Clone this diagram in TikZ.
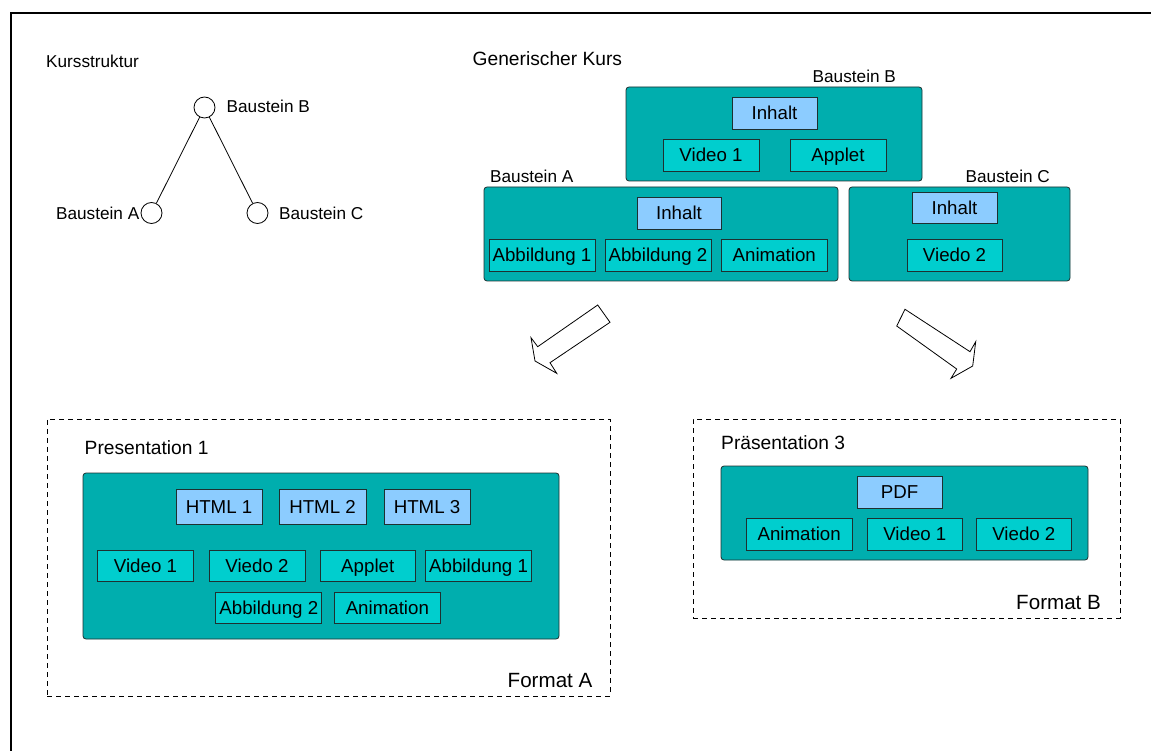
\documentclass[tikz,border=0pt]{standalone}
\usepackage{fontspec}
\setmainfont{Liberation Sans}
\usetikzlibrary{fit}

\definecolor{tealA}{RGB}{0,174,174}
\definecolor{cyanB}{RGB}{0,206,206}
\definecolor{blueC}{RGB}{140,204,255}
\definecolor{edge}{RGB}{30,48,48}

\tikzset{
  lbl/.style={inner sep=0pt, text height=12.3pt, text depth=0pt, font=\fontsize{17.2}{20}\selectfont},
  bigl/.style={inner sep=0pt, text height=13.7pt, text depth=0pt, font=\fontsize{19.2}{22}\selectfont},
  fmt/.style={inner sep=0pt, text height=14.7pt, text depth=0pt, font=\fontsize{20.6}{24}\selectfont},
  block/.style={draw=edge, fill=tealA, rounded corners=3pt, line width=0.8pt, inner sep=0pt},
  item/.style={draw=edge, fill=cyanB, line width=0.8pt, inner sep=0pt,
               text height=13.4pt, text depth=0pt, font=\fontsize{18.7}{22}\selectfont},
  head/.style={item, fill=blueC},
  sz/.style 2 args={minimum width=#1pt, minimum height=#2pt},
  knot/.style={circle, draw, line width=0.8pt, minimum size=21pt, inner sep=0pt},
  fmtbox/.style={draw, dashed, dash pattern=on 5pt off 4pt, line width=0.8pt, inner sep=0pt},
  fatarrow/.style={draw, fill=white, line width=0.8pt, line join=miter},
}

\begin{document}
\begin{tikzpicture}[x=1pt, y=-1pt]
\useasboundingbox (0,0) rectangle (1151,751);

% outer frame
\draw[line width=1.2pt] (11,751) -- (11,13) -- (1151,13);

% course structure tree
\node[lbl, anchor=west] (kst) at (46,61) {Kursstruktur};
\node[knot] (tB) at (204.5,107.5) {};
\node[knot] (tA) at (151.5,213) {};
\node[knot] (tC) at (257.5,213) {};
\draw[line width=0.8pt] (tB) -- (tA);
\draw[line width=0.8pt] (tB) -- (tC);
\node[lbl, anchor=west] (tBl) at (226.5,106) {Baustein B};
\node[lbl, anchor=east] (tAl) at (139.5,213) {Baustein A};
\node[lbl, anchor=west] (tCl) at (279,213) {Baustein C};

% generic course
\node[bigl, anchor=west] (gk) at (472.5,59) {Generischer Kurs};

\node[lbl, anchor=west] (bBl) at (812.5,76) {Baustein B};
\node[block, fit={(626,87) (922,181)}] (blkB) {};
\node[head, sz={85}{32}] (inhB) at (774.5,113) {Inhalt};
\node[item, sz={96}{32}] (vidB) at (711,155) {Video 1};
\node[item, sz={96}{32}] (appB) at (838,155) {Applet};

\node[lbl, anchor=west] (bAl) at (490,176) {Baustein A};
\node[block, fit={(484,187) (838,281)}] (blkA) {};
\node[head, sz={84}{32}] (inhA) at (679,213) {Inhalt};
\node[item, sz={106}{32}] (abbA1) at (542,255) {Abbildung 1};
\node[item, sz={106}{32}] (abbA2) at (658,255) {Abbildung 2};
\node[item, sz={105.5}{32}] (aniA) at (774.25,255) {Animation};

\node[lbl, anchor=west] (bCl) at (965.5,176) {Baustein C};
\node[block, fit={(849,187) (1070,281)}] (blkC) {};
\node[head, sz={85}{31}] (inhC) at (954.5,207.5) {Inhalt};
\node[item, sz={95}{32}] (vidC) at (954.5,255) {Viedo 2};

% transformation arrows
\draw[fatarrow] (597.7,305) -- (610,322.3) -- (550,362.7) -- (556.7,373.3)
  -- (535,361) -- (531,337.7) -- (537.7,346.7) -- cycle;
\draw[fatarrow] (905,309.3) -- (970,351.7) -- (975.7,341.7) -- (972.7,366)
  -- (951,378.3) -- (956.7,369) -- (896.7,326) -- cycle;

% format A
\node[fmtbox, fit={(47,419) (610,696)}] (fA) {};
\node[bigl, anchor=west] (p1) at (84.5,448) {Presentation 1};
\node[fmt, anchor=west] (fAl) at (507.5,680) {Format A};
\node[block, fit={(83,473) (559,639)}] (blkP1) {};
\node[head, sz={86}{35}] (h1) at (219,506.5) {HTML 1};
\node[head, sz={87}{35}] (h2) at (322.5,506.5) {HTML 2};
\node[head, sz={86}{35}] (h3) at (427,506.5) {HTML 3};
\node[item, sz={96}{31}] (p1v1) at (145.5,565.5) {Video 1};
\node[item, sz={96}{31}] (p1v2) at (257,565.5) {Viedo 2};
\node[item, sz={95.5}{31}] (p1ap) at (367.75,565.5) {Applet};
\node[item, sz={106.3}{31}] (p1a1) at (478.6,565.5) {Abbildung 1};
\node[item, sz={106}{31.7}] (p1a2) at (268.8,607.85) {Abbildung 2};
\node[item, sz={106.7}{31.7}] (p1an) at (387.35,607.85) {Animation};

% format B
\node[fmtbox, fit={(693,419) (1120,618)}] (fB) {};
\node[bigl, anchor=west] (p3) at (721,443) {Präsentation 3};
\node[fmt, anchor=west] (fBl) at (1016,602) {Format B};
\node[block, fit={(721,466) (1088,560)}] (blkP3) {};
\node[head, sz={85}{32}] (pdf) at (899.5,492) {PDF};
\node[item, sz={106.3}{31.7}] (p3an) at (799.15,534.15) {Animation};
\node[item, sz={95.7}{31.7}] (p3v1) at (914.85,534.15) {Video 1};
\node[item, sz={95.7}{31.7}] (p3v2) at (1023.85,534.15) {Viedo 2};
\end{tikzpicture}
\end{document}
